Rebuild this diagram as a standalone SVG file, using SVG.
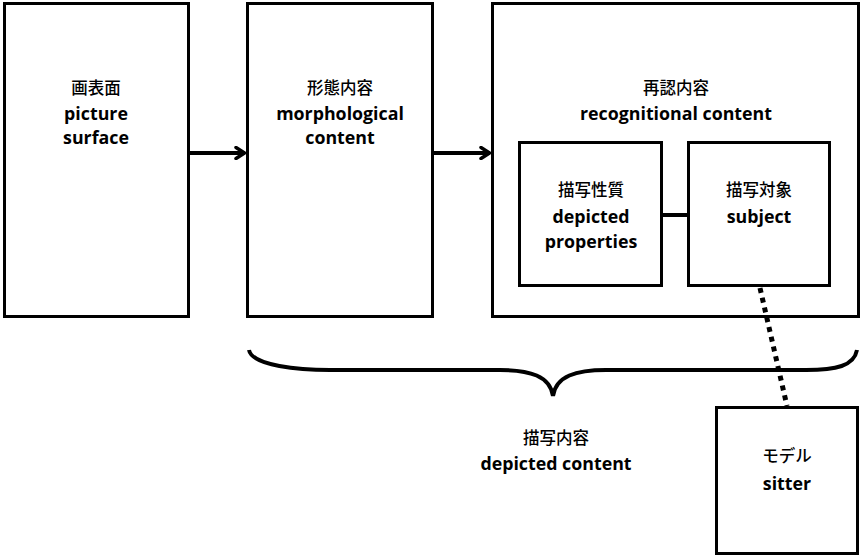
<svg xmlns="http://www.w3.org/2000/svg" width="861" height="558" viewBox="0 0 861 558">
<defs>
<style>
.box{fill:#fff;stroke:#000;stroke-width:3}
.en{font-family:"Open Sans","Noto Sans",sans-serif;font-weight:bold;font-size:17.8px;text-anchor:middle;fill:#000}
.jp{font-family:"Noto Sans CJK JP",sans-serif;font-weight:500;font-size:16.5px;text-anchor:middle;fill:#000}
.ln{fill:none;stroke:#000;stroke-width:4}
</style>
<marker id="arr" viewBox="0 0 12 14" refX="11" refY="7" markerWidth="12" markerHeight="14" markerUnits="userSpaceOnUse" orient="auto">
<path d="M2,1.5 L10.5,7 L2,12.5" fill="none" stroke="#000" stroke-width="3.5" stroke-linecap="round" stroke-linejoin="round"/>
</marker>
</defs>
<rect width="861" height="558" fill="#fff"/>
<g id="picture-surface">
<rect class="box" x="4.5" y="3.5" width="184" height="313"/>
<text class="jp" x="96" y="94">画表面</text>
<text class="en" x="96" y="120">picture</text>
<text class="en" x="96" y="144">surface</text>
</g>
<g id="morphological-content">
<rect class="box" x="247.5" y="3.5" width="185" height="313"/>
<text class="jp" x="340" y="94">形態内容</text>
<text class="en" x="340" y="120">morphological</text>
<text class="en" x="340" y="144">content</text>
</g>
<g id="recognitional-content">
<rect class="box" x="492.5" y="3.5" width="366" height="313"/>
<text class="jp" x="676" y="94">再認内容</text>
<text class="en" x="676" y="120">recognitional content</text>
</g>
<g id="depicted-properties">
<rect class="box" x="519.5" y="142.5" width="142" height="143"/>
<text class="jp" x="591" y="196">描写性質</text>
<text class="en" x="591" y="223">depicted</text>
<text class="en" x="591" y="248">properties</text>
</g>
<g id="subject">
<rect class="box" x="688.5" y="142.5" width="141" height="143"/>
<text class="jp" x="759" y="196">描写対象</text>
<text class="en" x="759" y="223">subject</text>
</g>
<g id="depicted-content">
<path d="M249,350 C252,366 300,370 330,370 L500,370 C530,370 550,376 553,396 C556,376 576,370 606,370 L806,370 C836,370 854,366 857,350" fill="none" stroke="#000" stroke-width="4"/>
<text class="jp" x="556" y="444">描写内容</text>
<text class="en" x="556" y="470">depicted content</text>
</g>
<g id="sitter">
<rect class="box" x="716.5" y="407.5" width="141" height="146"/>
<text class="jp" x="787" y="462">モデル</text>
<text class="en" x="787" y="490">sitter</text>
</g>
<g id="connectors">
<line class="ln" x1="189" y1="153" x2="245" y2="153" marker-end="url(#arr)"/>
<line class="ln" x1="433" y1="153" x2="490" y2="153" marker-end="url(#arr)"/>
<line class="ln" x1="662" y1="215" x2="688" y2="215"/>
<line x1="760" y1="288" x2="787" y2="406" stroke="#000" stroke-width="5" stroke-dasharray="5,5"/>
</g>
</svg>
